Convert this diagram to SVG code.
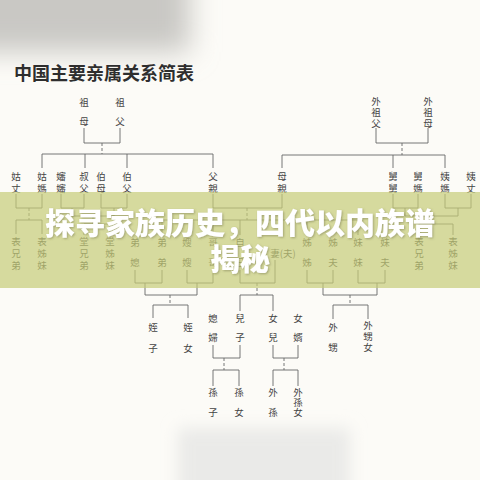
<svg xmlns="http://www.w3.org/2000/svg" width="480" height="480" viewBox="0 0 480 480">
<defs>
<style>
.t{font-family:"Noto Sans CJK TC","Noto Sans CJK SC",sans-serif;font-size:9.5px;fill:#444;text-anchor:middle;dominant-baseline:central}
.ln{stroke:#666;stroke-width:0.9;fill:none}
.dl{stroke:#666;stroke-width:0.9;fill:none;stroke-dasharray:3 2}
.title{font-family:"Noto Sans CJK SC",sans-serif;font-size:18px;font-weight:bold;fill:#2e2e2e}
.ban{font-family:"Noto Sans CJK SC",sans-serif;font-size:30px;font-weight:900;fill:#ffffff;text-anchor:middle}
</style>
<filter id="blur1" x="-50%" y="-50%" width="200%" height="200%"><feGaussianBlur stdDeviation="14"/></filter>
<filter id="blur2" x="-50%" y="-50%" width="200%" height="200%"><feGaussianBlur stdDeviation="8"/></filter>
<filter id="sh" x="-10%" y="-20%" width="120%" height="140%"><feDropShadow dx="1" dy="1" stdDeviation="1" flood-color="#6b6b40" flood-opacity="0.5"/></filter>
</defs>
<rect x="0" y="0" width="480" height="480" fill="#fcfbf7"/>
<rect x="-40" y="-40" width="230" height="92" fill="#c9c8c4" filter="url(#blur1)"/>
<rect x="178" y="428" width="172" height="80" fill="#eaeae8" filter="url(#blur2)"/>
<text class="title" x="14" y="80">中国主要亲属关系简表</text>

<g id="connectors">
<path class="ln" d="M84 128V143H120V128"/>
<path class="dl" d="M102 143V154"/>
<path class="ln" d="M42 168V154H213V168M85 154V168M127 154V168"/>
<path class="ln" d="M376 128V143H428V128"/>
<path class="dl" d="M402 143V155"/>
<path class="ln" d="M282 168V155H445V168M393 155V168"/>

<path class="ln" d="M16 194V208H42V194"/>
<path class="dl" d="M29 208V220"/>
<path class="ln" d="M16 234V220H42V234"/>
<path class="ln" d="M61 194V208H84V194M101 194V208H127V194M72 208V216H114V208"/>
<path class="dl" d="M93 216V224"/>
<path class="ln" d="M84 235V224H110V235"/>
<path class="ln" d="M213 194V208H282V194"/>
<path class="dl" d="M247 208V220"/>
<path class="ln" d="M162 235V220H358V235M213 220V235M240 220V235M307 220V235"/>
<path class="ln" d="M393 194V208H418V194M445 194V208H471V194M405 208V216H458V208"/>
<path class="dl" d="M432 216V224"/>
<path class="ln" d="M419 235V224H453V235"/>

<path class="ln" d="M135 270V283H162V270M187 270V283H213V270M145 283V295H197V283"/>
<path class="dl" d="M170 295V305"/>
<path class="ln" d="M153 318V305H188V318"/>
<path class="ln" d="M240 270V283H275V260"/>
<path class="dl" d="M257 283V295"/>
<path class="ln" d="M240 311V295H273V311"/>
<path class="ln" d="M307 270V283H333V270M358 270V283H385V270M323 283V295H377V283"/>
<path class="dl" d="M350 295V305"/>
<path class="ln" d="M333 319V305H368V319"/>

<path class="ln" d="M213 345V358H240V345"/>
<path class="dl" d="M224 358V370"/>
<path class="ln" d="M213 386V370H239V386"/>
<path class="ln" d="M273 345V358H298V345"/>
<path class="dl" d="M284 358V370"/>
<path class="ln" d="M273 386V370H298V386"/>
</g>

<g id="zumu"><text class="t"><tspan x="84" y="102">祖</tspan><tspan x="84" y="121">母</tspan></text></g>
<g id="zufu"><text class="t"><tspan x="120" y="102">祖</tspan><tspan x="120" y="121">父</tspan></text></g>
<g id="waizufu"><text class="t"><tspan x="376" y="101">外</tspan><tspan x="376" y="112">祖</tspan><tspan x="376" y="123">父</tspan></text></g>
<g id="waizumu"><text class="t"><tspan x="428" y="101">外</tspan><tspan x="428" y="112">祖</tspan><tspan x="428" y="123">母</tspan></text></g>

<g id="guzhang"><text class="t"><tspan x="16" y="176">姑</tspan><tspan x="16" y="188">丈</tspan></text></g>
<g id="guma"><text class="t"><tspan x="42" y="176">姑</tspan><tspan x="42" y="188">媽</tspan></text></g>
<g id="shenshen"><text class="t"><tspan x="61" y="176">嬸</tspan><tspan x="61" y="188">嬸</tspan></text></g>
<g id="shufu"><text class="t"><tspan x="84" y="176">叔</tspan><tspan x="84" y="188">父</tspan></text></g>
<g id="bomu"><text class="t"><tspan x="101" y="176">伯</tspan><tspan x="101" y="188">母</tspan></text></g>
<g id="bofu"><text class="t"><tspan x="127" y="176">伯</tspan><tspan x="127" y="188">父</tspan></text></g>
<g id="fuqin"><text class="t"><tspan x="213" y="176">父</tspan><tspan x="213" y="188">親</tspan></text></g>
<g id="muqin"><text class="t"><tspan x="282" y="176">母</tspan><tspan x="282" y="188">親</tspan></text></g>
<g id="jiujiu"><text class="t"><tspan x="393" y="176">舅</tspan><tspan x="393" y="188">舅</tspan></text></g>
<g id="jiuma"><text class="t"><tspan x="418" y="176">舅</tspan><tspan x="418" y="188">媽</tspan></text></g>
<g id="yima"><text class="t"><tspan x="445" y="176">姨</tspan><tspan x="445" y="188">媽</tspan></text></g>
<g id="yizhang"><text class="t"><tspan x="471" y="176">姨</tspan><tspan x="471" y="188">丈</tspan></text></g>

<g id="biaoxiongdi1"><text class="t"><tspan x="16" y="241">表</tspan><tspan x="16" y="253">兄</tspan><tspan x="16" y="265">弟</tspan></text></g>
<g id="biaozimei1"><text class="t"><tspan x="42" y="241">表</tspan><tspan x="42" y="253">姊</tspan><tspan x="42" y="265">妹</tspan></text></g>
<g id="tangxiongdi"><text class="t"><tspan x="84" y="241">堂</tspan><tspan x="84" y="253">兄</tspan><tspan x="84" y="265">弟</tspan></text></g>
<g id="tangzimei"><text class="t"><tspan x="110" y="241">堂</tspan><tspan x="110" y="253">姊</tspan><tspan x="110" y="265">妹</tspan></text></g>
<g id="dixi"><text class="t"><tspan x="135" y="242">弟</tspan><tspan x="135" y="262">媳</tspan></text></g>
<g id="didi"><text class="t"><tspan x="162" y="242">弟</tspan><tspan x="162" y="262">弟</tspan></text></g>
<g id="saosao"><text class="t"><tspan x="187" y="242">嫂</tspan><tspan x="187" y="262">嫂</tspan></text></g>
<g id="gege"><text class="t"><tspan x="213" y="242">哥</tspan><tspan x="213" y="262">哥</tspan></text></g>
<g id="ziji"><text class="t"><tspan x="240" y="242">自</tspan><tspan x="240" y="262">己</tspan></text></g>
<g id="qi"><text class="t" x="283" y="253">妻(夫)</text></g>
<g id="zizi"><text class="t"><tspan x="307" y="242">姊</tspan><tspan x="307" y="262">姊</tspan></text></g>
<g id="zifu"><text class="t"><tspan x="333" y="242">姊</tspan><tspan x="333" y="262">夫</tspan></text></g>
<g id="meimei"><text class="t"><tspan x="358" y="242">妹</tspan><tspan x="358" y="262">妹</tspan></text></g>
<g id="meifu"><text class="t"><tspan x="385" y="242">妹</tspan><tspan x="385" y="262">夫</tspan></text></g>
<g id="biaoxiongdi2"><text class="t"><tspan x="419" y="241">表</tspan><tspan x="419" y="253">兄</tspan><tspan x="419" y="265">弟</tspan></text></g>
<g id="biaozimei2"><text class="t"><tspan x="453" y="241">表</tspan><tspan x="453" y="253">姊</tspan><tspan x="453" y="265">妹</tspan></text></g>

<g id="zhizi"><text class="t"><tspan x="153" y="327">姪</tspan><tspan x="153" y="348">子</tspan></text></g>
<g id="zhinv"><text class="t"><tspan x="188" y="327">姪</tspan><tspan x="188" y="348">女</tspan></text></g>
<g id="waisheng"><text class="t"><tspan x="333" y="327">外</tspan><tspan x="333" y="347">甥</tspan></text></g>
<g id="waishengnv"><text class="t"><tspan x="368" y="325">外</tspan><tspan x="368" y="336">甥</tspan><tspan x="368" y="347">女</tspan></text></g>

<g id="xifu"><text class="t"><tspan x="213" y="318">媳</tspan><tspan x="213" y="337">婦</tspan></text></g>
<g id="erzi"><text class="t"><tspan x="240" y="318">兒</tspan><tspan x="240" y="337">子</tspan></text></g>
<g id="nver"><text class="t"><tspan x="273" y="318">女</tspan><tspan x="273" y="337">兒</tspan></text></g>
<g id="nvxu"><text class="t"><tspan x="298" y="318">女</tspan><tspan x="298" y="337">婿</tspan></text></g>

<g id="sunzi"><text class="t"><tspan x="213" y="392">孫</tspan><tspan x="213" y="412">子</tspan></text></g>
<g id="sunnv"><text class="t"><tspan x="239" y="392">孫</tspan><tspan x="239" y="412">女</tspan></text></g>
<g id="waisun"><text class="t"><tspan x="273" y="392">外</tspan><tspan x="273" y="412">孫</tspan></text></g>
<g id="waisunnv"><text class="t"><tspan x="298" y="392">外</tspan><tspan x="298" y="402">孫</tspan><tspan x="298" y="412">女</tspan></text></g>

<rect x="0" y="192" width="480" height="96" fill="#c6cc78" fill-opacity="0.7"/>
<g id="banner" filter="url(#sh)">
<text class="ban" x="240" y="234">探寻家族历史，四代以内族谱</text>
<text class="ban" x="240" y="270">揭秘</text>
</g>
</svg>
